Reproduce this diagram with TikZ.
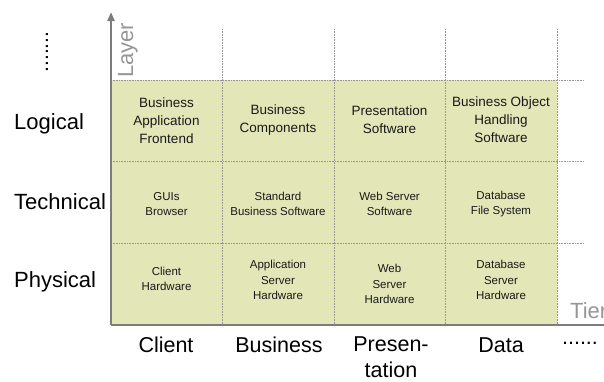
\documentclass[tikz,border=0pt]{standalone}
\usepackage{fontspec}
\setmainfont{Liberation Sans}
\usetikzlibrary{arrows.meta}
\definecolor{cellfill}{RGB}{227,231,184}
\definecolor{axisgray}{RGB}{125,125,125}
\definecolor{gridgray}{RGB}{150,150,150}
\definecolor{axislabel}{RGB}{150,150,150}
\definecolor{celltext}{RGB}{25,25,25}
\tikzset{
  axis/.style={draw=axisgray, line width=2.6pt},
  gridline/.style={draw=gridgray, line width=0.7pt, dash pattern=on 0.8pt off 0.8pt},
  cellbig/.style={align=center, text=celltext, inner sep=0pt,
    font=\fontsize{13.5}{18}\selectfont},
  cellsmall/.style={align=center, text=celltext, inner sep=0pt,
    font=\fontsize{11.5}{15.5}\selectfont},
  rowlabel/.style={anchor=base west, inner sep=0pt, font=\fontsize{22}{26}\selectfont},
  collabel/.style={anchor=base, inner sep=0pt, align=center, font=\fontsize{21.5}{26}\selectfont},
  axisname/.style={inner sep=0pt, text=axislabel, font=\fontsize{22}{26}\selectfont},
}
\begin{document}
\begin{tikzpicture}[x=1pt, y=-1pt]
\useasboundingbox (0,0) rectangle (604,381);

% shaded matrix area
\fill[cellfill] (111,80) rectangle (557,325);

% grid: column separators
\foreach \gx in {222,334,445,557}
  \draw[gridline] (\gx,29) -- (\gx,325);
% grid: row separators
\foreach \gy in {80,161,243}
  \draw[gridline] (111,\gy) -- (584,\gy);

% axes
\coordinate (O) at (111,325);
\coordinate (ytop) at (111,12);
\coordinate (xend) at (606,325);
\draw[axis, -{Triangle[width=7pt,length=9pt]}] (O) -- (ytop);
\draw[axis] (O) -- (xend);

% axis names
\node[axisname, rotate=90, anchor=base west] (layer) at (133,78) {Layer};
\node[axisname, anchor=base west] (tier) at (570,318) {Tier};

% row labels
\node[rowlabel] (logical) at (14,129) {Logical};
\node[rowlabel] (technical) at (14,209) {Technical};
\node[rowlabel] (physical) at (14,287) {Physical};
\node[inner sep=0pt, rotate=90, font=\fontsize{21}{26}\selectfont] (vdots) at (47,52) {.......};

% column labels
\node[collabel] (client) at (166,352) {Client};
\node[collabel] (business) at (279,352) {Business};
\node[collabel, anchor=north] (presentation) at (391,336) {Presen-\\tation};
\node[collabel] (data) at (501,352) {Data};
\node[collabel] (hdots) at (580,344) {......};

% logical row
\node[cellbig] (l1) at (166.5,121) {Business\\Application\\Frontend};
\node[cellbig] (l2) at (278,120) {Business\\Components};
\node[cellbig] (l3) at (389.5,120) {Presentation\\Software};
\node[cellbig] (l4) at (501,120) {Business Object\\Handling\\Software};

% technical row
\node[cellsmall] (t1) at (166.5,204) {GUIs\\Browser};
\node[cellsmall] (t2) at (278,204) {Standard\\Business Software};
\node[cellsmall] (t3) at (389.5,204) {Web Server\\Software};
\node[cellsmall] (t4) at (501,204) {Database\\File System};

% physical row
\node[cellsmall] (p1) at (166.5,279) {Client\\Hardware};
\node[cellsmall] (p2) at (278,280) {Application\\Server\\Hardware};
\node[cellsmall] (p3) at (389.5,284) {Web\\Server\\Hardware};
\node[cellsmall] (p4) at (501,280) {Database\\Server\\Hardware};
\end{tikzpicture}
\end{document}
